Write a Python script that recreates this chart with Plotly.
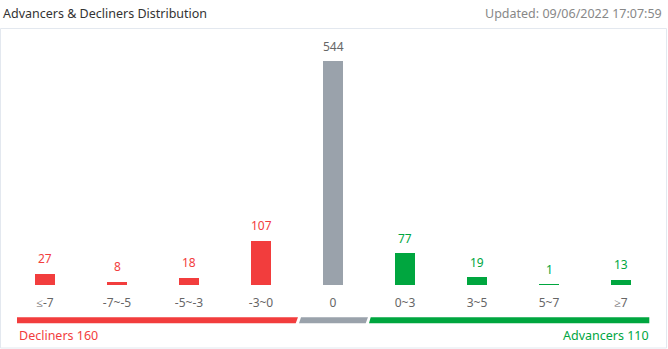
import plotly.graph_objects as go

categories = ["≤-7", "-7~-5", "-5~-3", "-3~0", "0", "0~3", "3~5", "5~7", "≥7"]
counts = [27, 8, 18, 107, 544, 77, 19, 1, 13]
groups = ["down", "down", "down", "down", "flat", "up", "up", "up", "up"]
title_text = "Advancers & Decliners Distribution"
updated_text = "Updated: 09/06/2022 17:07:59"

RED = "#f23d3d"
GREEN = "#00a63f"
GRAY = "#9aa2ab"
bar_colors = {"down": RED, "flat": GRAY, "up": GREEN}
label_colors = {"down": "#f23d3d", "flat": "#666666", "up": "#00a63f"}

decliners = sum(c for c, g in zip(counts, groups) if g == "down")
advancers = sum(c for c, g in zip(counts, groups) if g == "up")

FONT = "Noto Sans"
xs = list(range(len(categories)))

fig = go.Figure()
fig.add_trace(go.Bar(
    x=xs, y=counts, width=0.278,
    marker=dict(color=[bar_colors[g] for g in groups], line=dict(width=0)),
    hoverinfo="skip",
))

# value labels
for x, c, g in zip(xs, counts, groups):
    fig.add_annotation(x=x, y=c, xref="x", yref="y", text=str(c), showarrow=False,
                       yanchor="middle", yshift=15,
                       font=dict(family=FONT, size=12, color=label_colors[g]))

# pixel -> paper helpers (plot area spans x 9..657, y 38..285)
px = lambda p: (p - 9) / 648.0
py = lambda p: (285 - p) / 247.0
yt, yb = py(317.3), py(323.3)
segs = [
    (RED, [(px(17), yt), (px(298), yt), (px(295.7), yb), (px(17), yb)]),
    (GRAY, [(px(301), yt), (px(368), yt), (px(365.7), yb), (px(299), yb)]),
    (GREEN, [(px(370.7), yt), (px(649.3), yt), (px(649.3), yb), (px(369), yb)]),
]
for col, pts in segs:
    path = "M " + " L ".join(f"{a},{b}" for a, b in pts) + " Z"
    fig.add_shape(type="path", path=path, xref="paper", yref="paper",
                  fillcolor=col, line=dict(width=0), layer="above")

fig.add_annotation(x=px(17), y=py(335.5), xref="paper", yref="paper", text=f"Decliners {decliners}",
                   showarrow=False, xanchor="left", yanchor="middle",
                   font=dict(family=FONT, size=12.5, color=RED))
fig.add_annotation(x=px(651), y=py(335.5), xref="paper", yref="paper", text=f"Advancers {advancers}",
                   showarrow=False, xanchor="right", yanchor="middle",
                   font=dict(family=FONT, size=12.5, color=GREEN))

# header
fig.add_annotation(x=px(1), y=py(13), xref="paper", yref="paper",
                   text=title_text, showarrow=False, xanchor="left", yanchor="middle",
                   font=dict(family=FONT, size=12.5, color="#333333"))
fig.add_annotation(x=px(664), y=py(13), xref="paper", yref="paper",
                   text=updated_text, showarrow=False, xanchor="right", yanchor="middle",
                   font=dict(family=FONT, size=12.5, color="#888888"))

# panel border
fig.add_shape(type="rect", xref="paper", yref="paper",
              x0=px(0.5), x1=px(666.5), y0=py(348), y1=py(28.5),
              line=dict(color="#e3e8ef", width=1), fillcolor="rgba(0,0,0,0)", layer="below")

fig.update_layout(
    width=668, height=349,
    margin=dict(l=9, r=11, t=38, b=64, pad=0),
    paper_bgcolor="white", plot_bgcolor="white",
    showlegend=False, bargap=0,
    xaxis=dict(range=[-0.5, 8.5], tickvals=xs, ticktext=categories, showgrid=False,
               zeroline=False, showline=False, ticks="", fixedrange=True,
               tickfont=dict(family=FONT, size=12, color="#666666"), ticklabelstandoff=9),
    yaxis=dict(range=[0, 600], visible=False, fixedrange=True),
)

fig.write_html("out.html")
